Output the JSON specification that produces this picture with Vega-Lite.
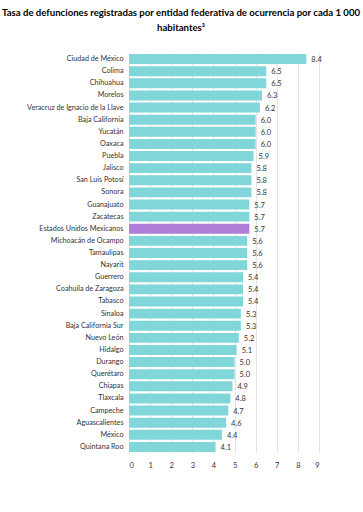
{
  "$schema": "https://vega.github.io/schema/vega-lite/v6.json",
  "width": 190,
  "height": 400,
  "autosize": {"type": "none"},
  "padding": {"left": 129, "top": 53, "right": 44, "bottom": 59},
  "background": "white",
  "title": {
    "text": ["Tasa de defunciones registradas por entidad federativa de ocurrencia por cada 1 000", "habitantes³"],
    "font": "Lato",
    "fontSize": 9.6,
    "fontWeight": "bold",
    "color": "#000000",
    "anchor": "middle",
    "frame": "group",
    "dx": -43,
    "offset": 20,
    "lineHeight": 15
  },
  "data": {
    "values": [
      {"entidad": "Ciudad de México", "tasa": 8.4, "tipo": "estado"},
      {"entidad": "Colima", "tasa": 6.5, "tipo": "estado"},
      {"entidad": "Chihuahua", "tasa": 6.5, "tipo": "estado"},
      {"entidad": "Morelos", "tasa": 6.3, "tipo": "estado"},
      {"entidad": "Veracruz de Ignacio de la Llave", "tasa": 6.2, "tipo": "estado"},
      {"entidad": "Baja California", "tasa": 6.0, "tipo": "estado"},
      {"entidad": "Yucatán", "tasa": 6.0, "tipo": "estado"},
      {"entidad": "Oaxaca", "tasa": 6.0, "tipo": "estado"},
      {"entidad": "Puebla", "tasa": 5.9, "tipo": "estado"},
      {"entidad": "Jalisco", "tasa": 5.8, "tipo": "estado"},
      {"entidad": "San Luis Potosí", "tasa": 5.8, "tipo": "estado"},
      {"entidad": "Sonora", "tasa": 5.8, "tipo": "estado"},
      {"entidad": "Guanajuato", "tasa": 5.7, "tipo": "estado"},
      {"entidad": "Zacatecas", "tasa": 5.7, "tipo": "estado"},
      {"entidad": "Estados Unidos Mexicanos", "tasa": 5.7, "tipo": "nacional"},
      {"entidad": "Michoacán de Ocampo", "tasa": 5.6, "tipo": "estado"},
      {"entidad": "Tamaulipas", "tasa": 5.6, "tipo": "estado"},
      {"entidad": "Nayarit", "tasa": 5.6, "tipo": "estado"},
      {"entidad": "Guerrero", "tasa": 5.4, "tipo": "estado"},
      {"entidad": "Coahuila de Zaragoza", "tasa": 5.4, "tipo": "estado"},
      {"entidad": "Tabasco", "tasa": 5.4, "tipo": "estado"},
      {"entidad": "Sinaloa", "tasa": 5.3, "tipo": "estado"},
      {"entidad": "Baja California Sur", "tasa": 5.3, "tipo": "estado"},
      {"entidad": "Nuevo León", "tasa": 5.2, "tipo": "estado"},
      {"entidad": "Hidalgo", "tasa": 5.1, "tipo": "estado"},
      {"entidad": "Durango", "tasa": 5.0, "tipo": "estado"},
      {"entidad": "Querétaro", "tasa": 5.0, "tipo": "estado"},
      {"entidad": "Chiapas", "tasa": 4.9, "tipo": "estado"},
      {"entidad": "Tlaxcala", "tasa": 4.8, "tipo": "estado"},
      {"entidad": "Campeche", "tasa": 4.7, "tipo": "estado"},
      {"entidad": "Aguascalientes", "tasa": 4.6, "tipo": "estado"},
      {"entidad": "México", "tasa": 4.4, "tipo": "estado"},
      {"entidad": "Quintana Roo", "tasa": 4.1, "tipo": "estado"}
    ]
  },
  "encoding": {
    "y": {
      "field": "entidad",
      "type": "nominal",
      "sort": null,
      "title": null,
      "scale": {"paddingInner": 0.18, "paddingOuter": 0.09},
      "axis": {
        "domain": false,
        "ticks": false,
        "labelPadding": 6,
        "labelFont": "Lato",
        "labelFontSize": 7.2,
        "labelColor": "#333333",
        "grid": false
      }
    },
    "x": {
      "field": "tasa",
      "type": "quantitative",
      "title": null,
      "scale": {"domain": [0, 9], "nice": false},
      "axis": {
        "values": [0, 1, 2, 3, 4, 5, 6, 7, 8, 9],
        "domain": false,
        "ticks": false,
        "labelPadding": 8,
        "labelFont": "Lato",
        "labelFontSize": 7.5,
        "labelColor": "#333333",
        "grid": true,
        "gridColor": "#e4e4e4",
        "gridWidth": 1
      }
    }
  },
  "layer": [
    {
      "mark": {"type": "bar"},
      "encoding": {
        "color": {
          "field": "tipo",
          "type": "nominal",
          "scale": {"domain": ["estado", "nacional"], "range": ["#80d6d8", "#b07ed8"]},
          "legend": null
        }
      }
    },
    {
      "mark": {"type": "text", "align": "left", "baseline": "middle", "dx": 5, "dy": 1, "font": "Lato", "fontSize": 7.5, "color": "#333333"},
      "encoding": {
        "text": {"field": "tasa", "type": "quantitative", "format": ".1f"}
      }
    }
  ],
  "config": {"view": {"stroke": null}}
}
